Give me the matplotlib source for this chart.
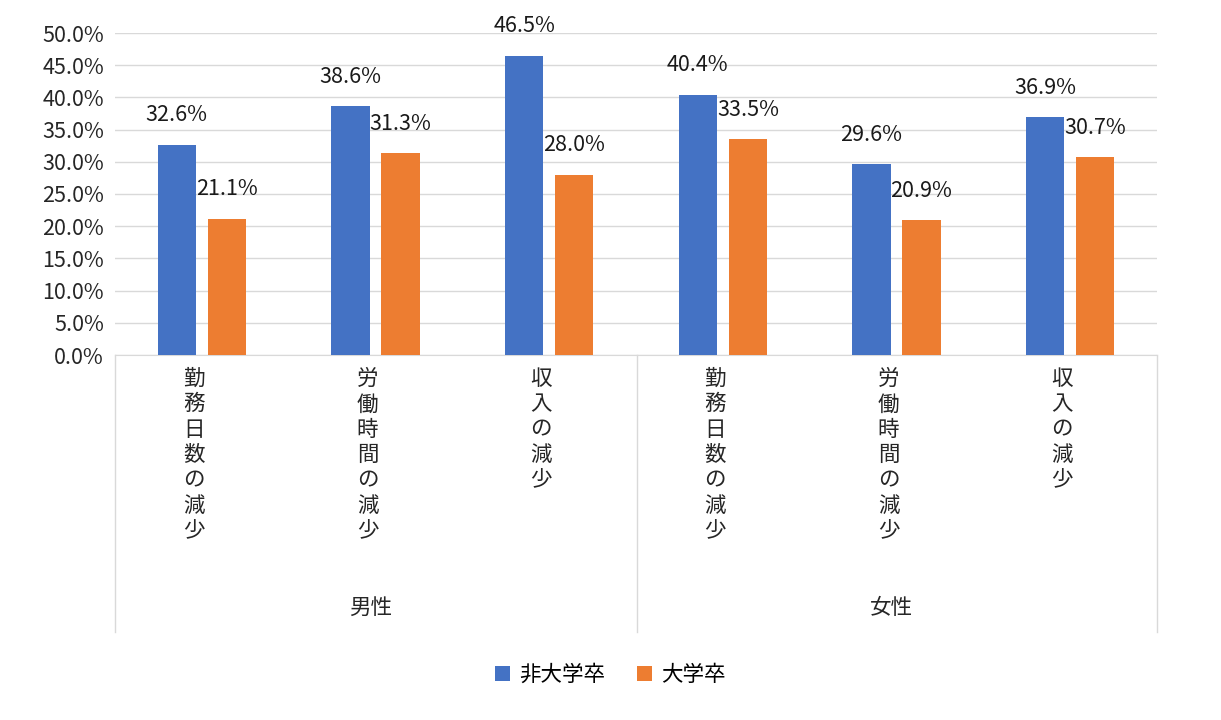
import matplotlib
matplotlib.use("Agg")
import matplotlib.pyplot as plt
import numpy as np
from matplotlib.lines import Line2D

plt.rcParams['font.family'] = 'Noto Sans CJK JP'

categories = ["勤務日数の減少", "労働時間の減少", "収入の減少", "勤務日数の減少", "労働時間の減少", "収入の減少"]
groups = ["男性", "女性"]
series_names = ["非大学卒", "大学卒"]
non_grad = [32.6, 38.6, 46.5, 40.4, 29.6, 36.9]
grad = [21.1, 31.3, 28.0, 33.5, 20.9, 30.7]
colors = ["#4472C4", "#ED7D31"]

W, H = 1221, 720
fig = plt.figure(figsize=(W/100, H/100), dpi=100)
L, R, T, B = 115, 1157, 33, 355
ax = fig.add_axes([L/W, 1-B/H, (R-L)/W, (B-T)/H])
x = np.arange(len(categories))
off, bw = 0.144, 0.219
b1 = ax.bar(x-off, non_grad, bw, color=colors[0], label=series_names[0], zorder=3)
b2 = ax.bar(x+off, grad, bw, color=colors[1], label=series_names[1], zorder=3)
for bars, vals in ((b1, non_grad), (b2, grad)):
    for b, v in zip(bars, vals):
        ax.text(b.get_x()+b.get_width()/2, v+2.9, f"{v:.1f}%", ha='center', va='bottom',
                fontsize=15.5, color='#1a1a1a', zorder=4)
ax.set_xlim(-0.5, len(categories)-0.5)
ax.set_ylim(0, 50)
ax.set_yticks(np.arange(0, 50.1, 5))
ax.set_yticklabels([f"{v:.1f}%" for v in np.arange(0, 50.1, 5)], fontsize=15.5, color='#262626')
ax.tick_params(axis='y', length=0, pad=8)
ax.grid(axis='y', color='#d9d9d9', lw=1, zorder=0)
for s in ['top', 'right', 'left']:
    ax.spines[s].set_visible(False)
ax.spines['bottom'].set_color('#d9d9d9')
ax.set_xticks([])

for i, c in enumerate(categories):
    xf = (L + (i+0.5)*(R-L)/6 - 8)/W
    fig.text(xf, 1-368/H, "\n".join(c), ha='center', va='top', fontsize=15.5,
             linespacing=1.2, color='#262626')
for j, g in enumerate(groups):
    xf = (L + (j+0.5)*(R-L)/2 - 5)/W
    fig.text(xf, 1-608/H, g, ha='center', va='center', fontsize=15.5, color='#262626')
for xp in (L, (L+R)/2+1, R):
    fig.add_artist(Line2D([xp/W, xp/W], [1-B/H, 1-632/H], color='#d9d9d9', lw=1))

fig.legend(loc='center', bbox_to_anchor=(0.5, 1-675/H), ncol=2, frameon=False,
           fontsize=15.5, handlelength=0.7, handleheight=0.7, columnspacing=1.5, handletextpad=0.4)
fig.savefig("out.png", dpi=100, facecolor='white')
